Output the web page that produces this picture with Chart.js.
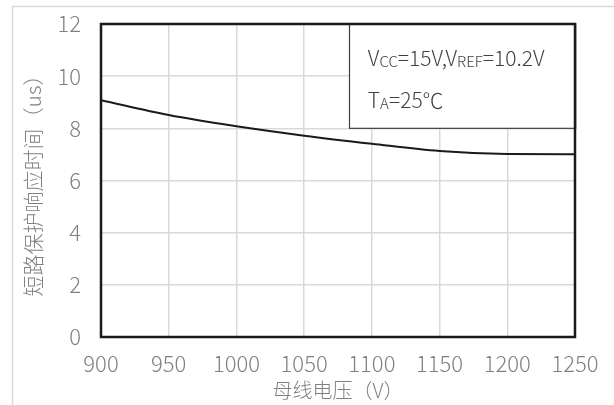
<!DOCTYPE html>
<html>
<head>
<meta charset="utf-8">
<script src="https://cdn.jsdelivr.net/npm/chart.js@4.4.0/dist/chart.umd.min.js"></script>
<style>
html,body{margin:0;padding:0;background:#fff;}
#wrap{width:614px;height:405px;position:relative;}
</style>
</head>
<body>
<div id="wrap"><canvas id="c" width="614" height="405"></canvas></div>
<script>
const busVoltage = [900, 950, 1000, 1050, 1100, 1150, 1200, 1250];
const responseTime = [9.08, 8.51, 8.08, 7.72, 7.41, 7.13, 7.02, 7.01];
const xTitle = '母线电压（V）';
const yTitle = '短路保护响应时间（us）';
const noteLine1 = [['V',''],['CC','sub'],['=15V,V',''],['REF','sub'],['=10.2V','']];
const noteLine2 = [['T',''],['A','sub'],['=25℃','']];
const noteBox = {xFrom:1083, xTo:1250, yFrom:8, yTo:12};

const FONT = '"Noto Sans CJK SC", "Noto Sans", sans-serif';

const framePlugin = {
  id:'frame',
  beforeDraw(chart){
    const ctx = chart.ctx;
    ctx.save();
    ctx.strokeStyle = '#d9d9d9';
    ctx.lineWidth = 1.5;
    ctx.strokeRect(12.5, 6.5, 700, 500);
    ctx.restore();
  },
  afterDatasetsDraw(chart){
    const ctx = chart.ctx;
    const a = chart.chartArea;
    const xs = chart.scales.x, ys = chart.scales.y;
    ctx.save();
    const bx0 = xs.getPixelForValue(noteBox.xFrom), bx1 = xs.getPixelForValue(noteBox.xTo);
    const by0 = ys.getPixelForValue(noteBox.yTo), by1 = ys.getPixelForValue(noteBox.yFrom);
    ctx.fillStyle = '#fff';
    ctx.fillRect(bx0, by0, bx1-bx0, by1-by0);
    ctx.strokeStyle = '#404040';
    ctx.lineWidth = 1.2;
    ctx.strokeRect(Math.round(bx0)+0.5, by0, bx1-bx0, by1-by0);
    const drawRuns = (runs, x, y) => {
      ctx.textBaseline = 'alphabetic';
      ctx.fillStyle = '#404040';
      for (const [t, s] of runs){
        if (s === 'sub'){
          ctx.font = '300 15px ' + FONT;
          ctx.fillText(t, x, y + 1);
        } else {
          ctx.font = '300 21px ' + FONT;
          ctx.fillText(t, x, y);
        }
        x += ctx.measureText(t).width;
      }
    };
    drawRuns(noteLine1, bx0 + 19, by0 + 42);
    drawRuns(noteLine2, bx0 + 19, by0 + 84);
    ctx.strokeStyle = '#1a1a1a';
    ctx.lineWidth = 2.5;
    ctx.strokeRect(a.left, a.top, a.right - a.left, a.bottom - a.top);
    ctx.restore();
  }
};

new Chart(document.getElementById('c'), {
  type:'line',
  data:{
    datasets:[{
      data: busVoltage.map((v,i)=>({x:v, y:responseTime[i]})),
      borderColor:'#1a1a1a',
      borderWidth:2,
      pointRadius:0,
      fill:false,
      cubicInterpolationMode:'monotone'
    }]
  },
  options:{
    responsive:false,
    animation:false,
    devicePixelRatio:1,
    layout:{padding:{left:0, right:39, top:24, bottom:0}},
    plugins:{legend:{display:false}, tooltip:{enabled:false}},
    scales:{
      x:{
        type:'linear', min:900, max:1250,
        afterFit(s){ s.height = 68; s.paddingLeft = 0; s.paddingRight = 0; },
        ticks:{stepSize:50, color:'#808080', font:{family:FONT, size:22, weight:300}, padding:13, maxRotation:0,
               callback:(v)=>String(v)},
        grid:{color:'#d9d9d9', lineWidth:1.5, drawTicks:false},
        border:{display:false},
        title:{display:true, text:xTitle, color:'#808080', font:{family:FONT, size:20, weight:300}, padding:{top:0, bottom:3}}
      },
      y:{
        min:0, max:12,
        afterFit(s){ s.width = 101; s.paddingTop = 0; s.paddingBottom = 0; },
        ticks:{stepSize:2, color:'#808080', font:{family:FONT, size:22, weight:300}, padding:20},
        grid:{color:'#d9d9d9', lineWidth:1.5, drawTicks:false},
        border:{display:false},
        title:{display:true, text:yTitle, color:'#808080', font:{family:FONT, size:21, weight:300}, padding:{top:20, bottom:0}}
      }
    }
  },
  plugins:[framePlugin]
});
</script>
</body>
</html>
